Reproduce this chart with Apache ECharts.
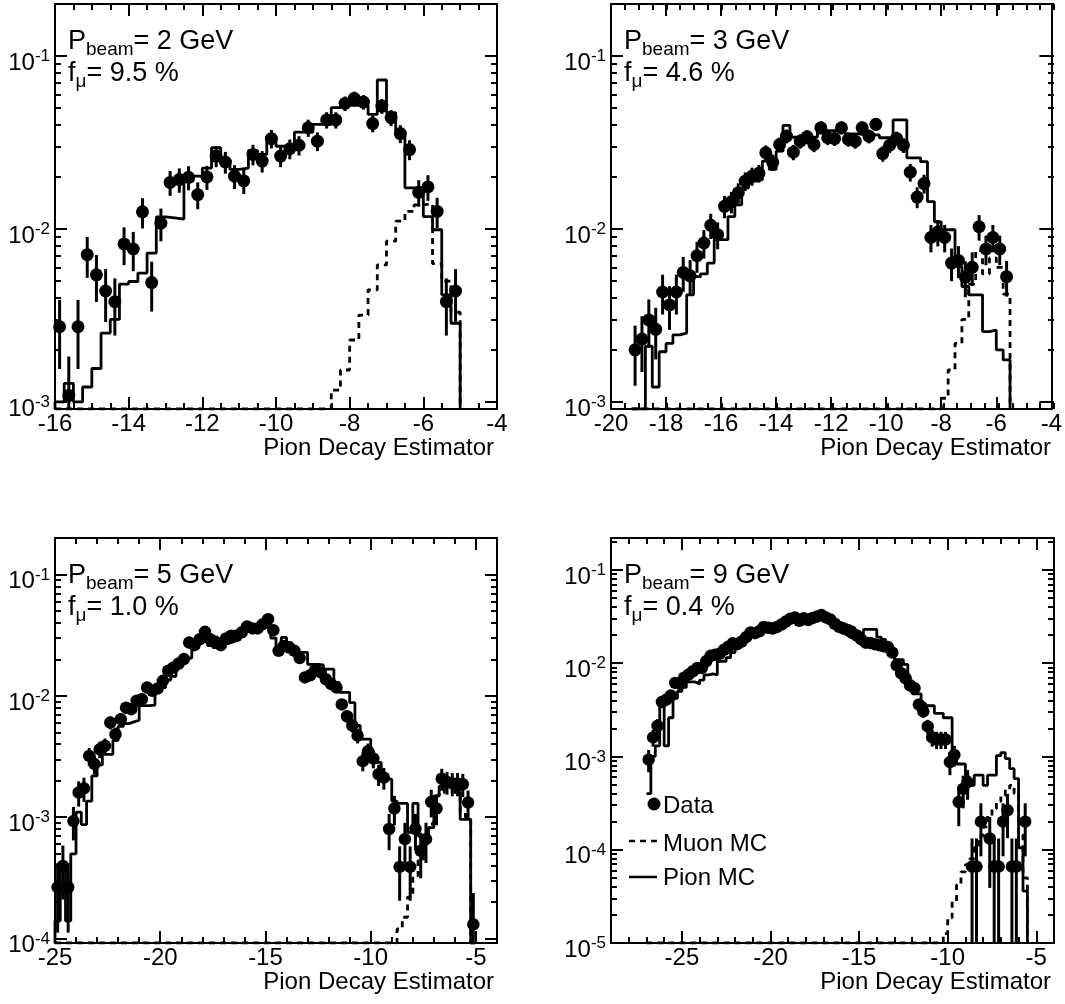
<!DOCTYPE html>
<html><head><meta charset="utf-8">
<script src="https://cdn.jsdelivr.net/npm/echarts@6/dist/echarts.min.js"></script>
<style>html,body{margin:0;padding:0;background:#fff}#c{width:1065px;height:1004px}</style>
</head><body><div id="c"></div>
<script>
const BIN = 0.25;

// ---------- Panel 1 : P = 2 GeV ----------
const p1Low = -16;
const p1Data = [0.00272,0.00109,0.00272,0.0071,0.00543,0.00438,0.0038,0.0082,0.00766,0.01257,0.0049,0.0108,0.0186,0.0193,0.0199,0.0158,0.02,0.0264,0.0244,0.0202,0.019,0.027,0.0247,0.0333,0.0264,0.0291,0.0305,0.0385,0.0322,0.0427,0.0427,0.0532,0.0569,0.0542,0.0407,0.0514,0.044,0.0356,0.0288,0.0163,0.0175,0.01264,0.0038,0.00438];
const p1Err = [0.00117,0.00074,0.00117,0.00188,0.00165,0.00148,0.00138,0.00202,0.00196,0.0025,0.00157,0.00232,0.00305,0.0031,0.00315,0.0028,0.00316,0.00363,0.0035,0.00318,0.00308,0.00367,0.0035,0.00408,0.00363,0.00381,0.0039,0.00439,0.004,0.00462,0.00462,0.00516,0.00533,0.0052,0.0045,0.00507,0.00469,0.00422,0.0038,0.00285,0.00296,0.0025,0.00138,0.00148];
const p1Pion = [0.001,0.00128,0.001,0.00122,0.00156,0.0025,0.003,0.0048,0.00497,0.00556,0.00726,0.01175,0.0116,0.0114,0.0189,0.0202,0.0225,0.0295,0.025,0.0221,0.0225,0.0284,0.027,0.0344,0.0301,0.0301,0.0363,0.0363,0.0403,0.0403,0.0503,0.0519,0.0519,0.0519,0.046,0.0727,0.047,0.0368,0.0173,0.0173,0.0118,0.0099,0.00416,0.00285];
const p1Muon = [0,0,0,0,0,0,0,0,0,0,0,0,0,0,0,0,0,0,0,0,0,0,0,0,0,0,0,0,0,0,0.00117,0.00153,0.00228,0.00318,0.00445,0.0062,0.0085,0.0111,0.01265,0.0138,0.014,0.0063,0.005,0.0033];
const p1XTicks = [-16,-14,-12,-10,-8,-6,-4];
const p1YTicks = [-3,-2,-1];

// ---------- Panel 2 : P = 3 GeV ----------
const p2Low = -19.25;
const p2Data = [0.002,0.00231,0.00298,0.00263,0.00432,0.00364,0.00432,0.00561,0.00536,0.007,0.0083,0.0105,0.00927,0.01352,0.01435,0.0162,0.0189,0.0202,0.021,0.0276,0.0243,0.0308,0.0344,0.0278,0.0322,0.0341,0.0308,0.0385,0.0337,0.0333,0.0385,0.033,0.0322,0.0385,0.0344,0.0403,0.0273,0.0305,0.0334,0.0305,0.0213,0.0153,0.0183,0.00894,0.0096,0.00894,0.00635,0.00658,0.00527,0.006,0.0103,0.00766,0.00894,0.00766,0.0053];
const p2Err = [0.00076,0.00082,0.00093,0.00087,0.00112,0.00103,0.00112,0.00128,0.00125,0.00142,0.00155,0.00175,0.00164,0.00198,0.00204,0.00217,0.00234,0.00242,0.00247,0.00283,0.00265,0.00299,0.00316,0.00284,0.00306,0.00314,0.00299,0.00334,0.00313,0.00311,0.00334,0.00309,0.00306,0.00334,0.00316,0.00342,0.00281,0.00297,0.00311,0.00297,0.00249,0.00211,0.0023,0.00161,0.00167,0.00161,0.00136,0.00138,0.00124,0.00132,0.00173,0.00149,0.00161,0.00149,0.00124];
const p2Pion = [0,0,0.0021,0.00122,0.00195,0.00218,0.00244,0.0025,0.00416,0.0053,0.0055,0.00635,0.00867,0.00867,0.0118,0.0138,0.0173,0.0189,0.0193,0.0247,0.0221,0.0282,0.0397,0.034,0.033,0.033,0.034,0.037,0.037,0.037,0.037,0.0355,0.0355,0.035,0.035,0.035,0.0337,0.0337,0.0427,0.0427,0.0258,0.0258,0.0245,0.0144,0.011,0.0099,0.0099,0.00607,0.00465,0.00416,0.00416,0.00255,0.0026,0.002,0.00175];
const p2Muon = [0,0,0,0,0,0,0,0,0,0,0,0,0,0,0,0,0,0,0,0,0,0,0,0,0,0,0,0,0,0,0,0,0,0,0,0,0,0,0,0,0,0,0,0,0,0.00105,0.00153,0.00218,0.003,0.0048,0.0075,0.0055,0.0068,0.006,0.0042];
const p2XTicks = [-20,-18,-16,-14,-12,-10,-8,-6,-4];
const p2YTicks = [-3,-2,-1];

// ---------- Panel 3 : P = 5 GeV ----------
const p3Low = -25;
const p3Data = [2.65e-4,3.97e-4,2.65e-4,9.3e-4,1.6e-3,1.73e-3,3.2e-3,2.74e-3,3.63e-3,3.87e-3,6.03e-3,4.83e-3,6.43e-3,8.0e-3,7.77e-3,9.1e-3,9.4e-3,0.0117,0.011,0.0115,0.0133,0.0161,0.0171,0.0185,0.0201,0.0275,0.0262,0.0293,0.0337,0.0293,0.0279,0.0262,0.0297,0.0313,0.0313,0.0334,0.0373,0.036,0.036,0.039,0.0429,0.0348,0.0235,0.0258,0.025,0.0235,0.0205,0.0142,0.0148,0.0166,0.0156,0.0137,0.0125,0.0117,0.0085,0.0068,0.0057,0.0047,0.0029,0.0035,0.00305,0.00226,0.00212,0.0008,0.00118,0.00039,0.00066,0.00039,0.0008,0.00053,0.00066,0.00134,0.00118,0.00208,0.00195,0.0019,0.0019,0.00187,0.00132,0.000131];
const p3Err = [1.53e-4,1.87e-4,1.53e-4,2.86e-4,3.75e-4,3.9e-4,5.3e-4,4.9e-4,5.65e-4,5.84e-4,7.28e-4,6.52e-4,7.52e-4,8.39e-4,8.27e-4,8.95e-4,9.1e-4,1.01e-3,9.8e-4,1.0e-3,1.08e-3,1.19e-3,1.23e-3,1.28e-3,1.33e-3,1.56e-3,1.52e-3,1.61e-3,1.72e-3,1.61e-3,1.57e-3,1.52e-3,1.62e-3,1.66e-3,1.66e-3,1.71e-3,1.81e-3,1.78e-3,1.78e-3,1.85e-3,1.94e-3,1.75e-3,1.44e-3,1.51e-3,1.48e-3,1.44e-3,1.34e-3,1.12e-3,1.14e-3,1.21e-3,1.17e-3,1.1e-3,1.05e-3,1.01e-3,8.6e-4,7.7e-4,7.1e-4,6.4e-4,5.1e-4,5.5e-4,5.2e-4,4.5e-4,4.3e-4,2.65e-4,3.2e-4,1.85e-4,2.4e-4,1.85e-4,2.65e-4,2.16e-4,2.4e-4,3.43e-4,3.2e-4,4.28e-4,4.14e-4,4.1e-4,4.1e-4,4.06e-4,3.4e-4,1.07e-4];
const p3Pion = [1.4e-4,4.2e-4,1.4e-4,5e-4,1.1e-3,8.7e-4,1.36e-3,2.19e-3,2.7e-3,3.3e-3,3.3e-3,4.3e-3,5.6e-3,5.9e-3,6.1e-3,6.3e-3,8.3e-3,8.3e-3,8.4e-3,0.0107,0.0117,0.0135,0.0145,0.017,0.0205,0.0205,0.0275,0.031,0.03,0.026,0.025,0.025,0.027,0.028,0.029,0.031,0.034,0.035,0.036,0.037,0.039,0.03,0.0235,0.0303,0.0275,0.0228,0.0228,0.0228,0.0182,0.0182,0.018,0.0166,0.0166,0.0129,0.0107,0.0107,0.0088,0.0057,0.0044,0.0044,0.00283,0.00283,0.00206,0.00206,0.00136,0.0013,0.0013,0.00075,0.0013,0.0007,0.0007,0.00082,0.0015,0.0018,0.00206,0.00195,0.0016,0.00096,0.00096,0];
const p3Muon = [0,0,0,0,0,0,0,0,0,0,0,0,0,0,0,0,0,0,0,0,0,0,0,0,0,0,0,0,0,0,0,0,0,0,0,0,0,0,0,0,0,0,0,0,0,0,0,0,0,0,0,0,0,0,0,0,0,0,0,0,0,0,0,0,0,1.2e-4,1.5e-4,2.2e-4,3.3e-4,4.4e-4,6.6e-4,8.8e-4,1.5e-3,1.6e-3,1.8e-3,1.8e-3,1.7e-3,1.1e-3,1.0e-3,0];
const p3XTicks = [-25,-20,-15,-10,-5];
const p3YTicks = [-4,-3,-2,-1];

// ---------- Panel 4 : P = 9 GeV ----------
const p4Low = -27;
const p4Data = [9.25e-4,1.6e-3,2.13e-3,3.84e-3,4.07e-3,4.5e-3,6.15e-3,6.0e-3,7.0e-3,7.55e-3,8.2e-3,8.9e-3,8.9e-3,0.0105,0.012,0.0123,0.0126,0.0139,0.015,0.0164,0.016,0.0171,0.019,0.0214,0.021,0.022,0.0245,0.024,0.0235,0.0245,0.026,0.028,0.03,0.031,0.0285,0.0303,0.029,0.0305,0.0316,0.0328,0.031,0.0295,0.0265,0.0245,0.0235,0.0225,0.021,0.0198,0.018,0.0166,0.0165,0.016,0.0156,0.0152,0.0149,0.013,0.0095,0.0078,0.0069,0.0058,0.0054,0.0036,0.00305,0.0021,0.0016,0.00152,0.00152,0.00152,0.00087,0.00104,0.000325,0.00045,0.00053,6.6e-5,6.6e-5,2.0e-4,null,1.32e-4,6.6e-5,6.6e-5,2.0e-4,2.65e-4,6.6e-5,6.6e-5,null,2.0e-4];
const p4Err = [2.47e-4,3.25e-4,3.75e-4,5.03e-4,5.18e-4,5.45e-4,6.37e-4,6.3e-4,6.8e-4,7.06e-4,7.36e-4,7.66e-4,7.66e-4,8.3e-4,8.9e-4,9.0e-4,9.1e-4,9.6e-4,9.95e-4,1.04e-3,1.03e-3,1.06e-3,1.12e-3,1.19e-3,1.18e-3,1.2e-3,1.27e-3,1.26e-3,1.25e-3,1.27e-3,1.31e-3,1.36e-3,1.41e-3,1.43e-3,1.37e-3,1.41e-3,1.38e-3,1.42e-3,1.44e-3,1.47e-3,1.43e-3,1.4e-3,1.32e-3,1.27e-3,1.25e-3,1.22e-3,1.18e-3,1.14e-3,1.09e-3,1.05e-3,1.04e-3,1.03e-3,1.01e-3,1.0e-3,9.9e-4,9.3e-4,7.9e-4,7.2e-4,6.7e-4,6.2e-4,6.0e-4,4.9e-4,4.5e-4,3.7e-4,3.25e-4,3.17e-4,3.17e-4,3.17e-4,2.4e-4,2.6e-4,1.46e-4,1.72e-4,1.87e-4,6.6e-5,6.6e-5,1.15e-4,null,9.3e-5,6.6e-5,6.6e-5,1.15e-4,1.32e-4,6.6e-5,6.6e-5,null,1.15e-4];
const p4Pion = [4e-4,1.0e-3,1.3e-3,3.8e-3,1.3e-3,2.6e-3,4.2e-3,5.0e-3,5.5e-3,6.3e-3,6.3e-3,6.0e-3,6.6e-3,7.5e-3,7.7e-3,7.5e-3,0.0105,0.0105,0.0115,0.013,0.015,0.0165,0.0175,0.02,0.02,0.021,0.022,0.022,0.024,0.025,0.026,0.027,0.028,0.029,0.028,0.029,0.03,0.03,0.031,0.031,0.03,0.029,0.028,0.027,0.026,0.025,0.024,0.02,0.021,0.023,0.023,0.023,0.019,0.018,0.0139,0.0139,0.0109,0.0109,0.0097,0.0062,0.0047,0.0047,0.0037,0.0035,0.0035,0.0029,0.0029,0.0026,0.0026,0.00115,0.00083,0.00083,0.0006,0.00049,0.00063,0.00063,0.00049,0.00063,0.00063,0.00102,0.0011,0.00095,0.00074,0.00058,0.000105,0.000036];
const p4Muon = [0,0,0,0,0,0,0,0,0,0,0,0,0,0,0,0,0,0,0,0,0,0,0,0,0,0,0,0,0,0,0,0,0,0,0,0,0,0,0,0,0,0,0,0,0,0,0,0,0,0,0,0,0,0,0,0,0,0,0,0,0,0,0,0,0,0,0,1.26e-5,1.86e-5,2.8e-5,4.2e-5,5.8e-5,6.9e-5,8e-5,1.05e-4,1.4e-4,1.76e-4,2.3e-4,2.75e-4,3.3e-4,3.8e-4,4.4e-4,4.9e-4,4.0e-4,1.44e-4,5e-5];
const p4XTicks = [-25,-20,-15,-10,-5];
const p4YTicks = [-5,-4,-3,-2,-1];

const legendNames = ['Data','Muon MC','Pion MC'];
const xTitle = 'Pion Decay Estimator';

// ---------- layout / style ----------
const FONT = "'Liberation Sans', Arimo, Arial, Helvetica, sans-serif";
const panels = [
  {low:p1Low, data:p1Data, err:p1Err, pion:p1Pion, muon:p1Muon, xMin:-16, xMax:-4, xMajor:p1XTicks, xMinorStep:0.5, yMin:0.00091, yMax:0.2, yMajor:p1YTicks, pbeam:'2', fmu:'9.5', grid:{left:55, top:4, width:442, height:405}, marker:13, pionFromBottom:true},
  {low:p2Low, data:p2Data, err:p2Err, pion:p2Pion, muon:p2Muon, xMin:-20, xMax:-4, xMajor:p2XTicks, xMinorStep:0.5, yMin:0.00091, yMax:0.2, yMajor:p2YTicks, pbeam:'3', fmu:'4.6', grid:{left:611, top:4, width:443, height:405}, marker:13, pionFromBottom:true},
  {low:p3Low, data:p3Data, err:p3Err, pion:p3Pion, muon:p3Muon, xMin:-25, xMax:-4, xMajor:p3XTicks, xMinorStep:1, yMin:9.2e-5, yMax:0.2, yMajor:p3YTicks, pbeam:'5', fmu:'1.0', grid:{left:55, top:538, width:442, height:405}, marker:12.5, pionFromBottom:true},
  {low:p4Low, data:p4Data, err:p4Err, pion:p4Pion, muon:p4Muon, xMin:-29, xMax:-4, xMajor:p4XTicks, xMinorStep:1, yMin:1e-5, yMax:0.22, yMajor:p4YTicks, pbeam:'9', fmu:'0.4', grid:{left:611, top:538, width:443, height:405}, marker:12.5, pionFromBottom:false, legend:true}
];

function rangeTicks(a, b, step) {
  const r = [];
  for (let v = a; v <= b + 1e-9; v += step) r.push(Math.round(v * 1000) / 1000);
  return r;
}
function logMinor(yMin, yMax) {
  const r = [];
  for (let n = -7; n <= 0; n++) for (let k = 1; k <= 9; k++) {
    const v = k * Math.pow(10, n);
    if (v >= yMin * 0.9999 && v <= yMax * 1.0001) r.push(Math.log10(v));
  }
  return r;
}
function stepPath(low, vals, yMinL, fromBottom) {
  const pts = fromBottom ? [[low, yMinL]] : [];
  vals.forEach((v, i) => {
    const y = v > 0 ? Math.log10(v) : yMinL;
    pts.push([low + i * BIN, y], [low + (i + 1) * BIN, y]);
  });
  pts.push([low + vals.length * BIN, yMinL]);
  return pts;
}

const LINE = {color:'#000', width:2};
const grids = [], xAxes = [], yAxes = [], series = [], graphics = [];

panels.forEach((P, p) => {
  const g = P.grid;
  const yMinL = Math.log10(P.yMin), yMaxL = Math.log10(P.yMax);
  const gi = grids.length; grids.push(Object.assign({}, g));
  const gm = grids.length; grids.push(Object.assign({}, g));
  const xMinor = rangeTicks(P.xMin, P.xMax, P.xMinorStep);
  const yMinor = logMinor(P.yMin, P.yMax);
  const xb = {type:'value', min:P.xMin, max:P.xMax, splitLine:{show:false}};
  const yb = {type:'value', min:yMinL, max:yMaxL, splitLine:{show:false}};
  const tickMaj = (vals) => ({show:true, inside:true, length:12, customValues:vals, lineStyle:LINE});
  const tickMin = (vals) => ({show:true, inside:true, length:6, customValues:vals, lineStyle:LINE});
  const xi = xAxes.length, yi = yAxes.length;
  xAxes.push(
    Object.assign({}, xb, {gridIndex:gi, position:'bottom', axisLine:{show:true, onZero:false, lineStyle:LINE}, axisTick:tickMaj(P.xMajor),
      axisLabel:{show:true, customValues:P.xMajor, formatter:(v) => String(Math.round(v)), fontSize:24, fontFamily:FONT, color:'#000', margin:3}}),
    Object.assign({}, xb, {gridIndex:gi, position:'top', axisLine:{show:true, onZero:false, lineStyle:LINE}, axisTick:tickMaj(P.xMajor), axisLabel:{show:false}}),
    Object.assign({}, xb, {gridIndex:gm, position:'bottom', axisLine:{show:false}, axisTick:tickMin(xMinor), axisLabel:{show:false}}),
    Object.assign({}, xb, {gridIndex:gm, position:'top', axisLine:{show:false}, axisTick:tickMin(xMinor), axisLabel:{show:false}})
  );
  yAxes.push(
    Object.assign({}, yb, {gridIndex:gi, position:'left', axisLine:{show:true, onZero:false, lineStyle:LINE}, axisTick:tickMaj(P.yMajor),
      axisLabel:{show:true, customValues:P.yMajor, margin:5, padding:[14,0,0,0],
        formatter:(v) => '{b|10}{s|' + Math.round(v) + '}',
        rich:{b:{fontSize:24, fontFamily:FONT, color:'#000', lineHeight:30},
              s:{fontSize:17, fontFamily:FONT, color:'#000', lineHeight:8, verticalAlign:'top'}}}}),
    Object.assign({}, yb, {gridIndex:gi, position:'right', axisLine:{show:true, onZero:false, lineStyle:LINE}, axisTick:tickMaj(P.yMajor), axisLabel:{show:false}}),
    Object.assign({}, yb, {gridIndex:gm, position:'left', axisLine:{show:false}, axisTick:tickMin(yMinor), axisLabel:{show:false}}),
    Object.assign({}, yb, {gridIndex:gm, position:'right', axisLine:{show:false}, axisTick:tickMin(yMinor), axisLabel:{show:false}})
  );

  const pts = [], errs = [];
  P.data.forEach((v, i) => {
    if (v == null || !(v > 0)) return;
    const c = P.low + (i + 0.5) * BIN;
    const e = P.err[i] || 0;
    pts.push([c, Math.log10(v)]);
    errs.push([c, Math.log10(Math.max(v - e, P.yMin)), Math.log10(v + e)]);
  });
  series.push(
    {type:'line', name:'Pion MC', xAxisIndex:xi, yAxisIndex:yi, data:stepPath(P.low, P.pion, yMinL, P.pionFromBottom), symbol:'none', showSymbol:false,
      lineStyle:{color:'#000', width:2.8, opacity:1}, itemStyle:{color:'#000'}, z:2, animation:false, silent:true},
    {type:'line', name:'Muon MC', xAxisIndex:xi, yAxisIndex:yi, data:stepPath(P.low, P.muon, yMinL, true), symbol:'none', showSymbol:false,
      lineStyle:{color:'#000', width:2.8, type:[6,5], opacity:1}, itemStyle:{color:'#000'}, z:2, animation:false, silent:true},
    {type:'custom', name:'Data', xAxisIndex:xi, yAxisIndex:yi, data:errs, encode:{x:0, y:[1,2]}, clip:true, z:3, animation:false, silent:true,
      renderItem:(params, api) => {
        const a = api.coord([api.value(0), api.value(1)]);
        const b = api.coord([api.value(0), api.value(2)]);
        return {type:'line', shape:{x1:a[0], y1:a[1], x2:b[0], y2:b[1]}, style:{stroke:'#000', lineWidth:3}};
      }},
    {type:'scatter', name:'Data', xAxisIndex:xi, yAxisIndex:yi, data:pts, symbol:'circle', symbolSize:P.marker,
      itemStyle:{color:'#000', opacity:1}, z:4, animation:false, silent:true}
  );

  const RICH = {
    b:{font:'27px ' + FONT, fill:'#000', lineHeight:34},
    s:{font:'19px ' + FONT, fill:'#000', lineHeight:14, verticalAlign:'bottom'}
  };
  graphics.push(
    {type:'text', x:g.left + 13, y:g.top + 38, z:10, style:{text:'{b|P}{s|beam}{b|= ' + P.pbeam + ' GeV}', rich:RICH, align:'left', verticalAlign:'middle'}},
    {type:'text', x:g.left + 13, y:g.top + 70, z:10, style:{text:'{b|f}{s|\u03bc}{b|= ' + P.fmu + ' %}', rich:RICH, align:'left', verticalAlign:'middle'}},
    {type:'text', x:g.left + g.width - 3, y:g.top + g.height + 39, z:10, style:{text:xTitle, font:'24px ' + FONT, fill:'#000', align:'right', verticalAlign:'middle'}}
  );
  if (P.legend) {
    const lx = g.left, ly = g.top;
    graphics.push(
      {type:'circle', z:10, shape:{cx:lx + 43, cy:ly + 266, r:6.5}, style:{fill:'#000'}},
      {type:'text', z:10, x:lx + 52, y:ly + 268, style:{text:legendNames[0], font:'24px ' + FONT, fill:'#000', align:'left', verticalAlign:'middle'}},
      {type:'line', z:10, shape:{x1:lx + 18, y1:ly + 303, x2:lx + 46, y2:ly + 303}, style:{stroke:'#000', lineWidth:2.5, lineDash:[6,5]}},
      {type:'text', z:10, x:lx + 52, y:ly + 306, style:{text:legendNames[1], font:'24px ' + FONT, fill:'#000', align:'left', verticalAlign:'middle'}},
      {type:'line', z:10, shape:{x1:lx + 18, y1:ly + 339, x2:lx + 46, y2:ly + 339}, style:{stroke:'#000', lineWidth:2.5}},
      {type:'text', z:10, x:lx + 52, y:ly + 340, style:{text:legendNames[2], font:'24px ' + FONT, fill:'#000', align:'left', verticalAlign:'middle'}}
    );
  }
});

const chart = echarts.init(document.getElementById('c'), null, {renderer:'canvas'});
chart.setOption({
  animation:false,
  backgroundColor:'#fff',
  textStyle:{fontFamily:FONT},
  grid:grids, xAxis:xAxes, yAxis:yAxes, series:series, graphic:graphics
});
</script>
</body></html>
